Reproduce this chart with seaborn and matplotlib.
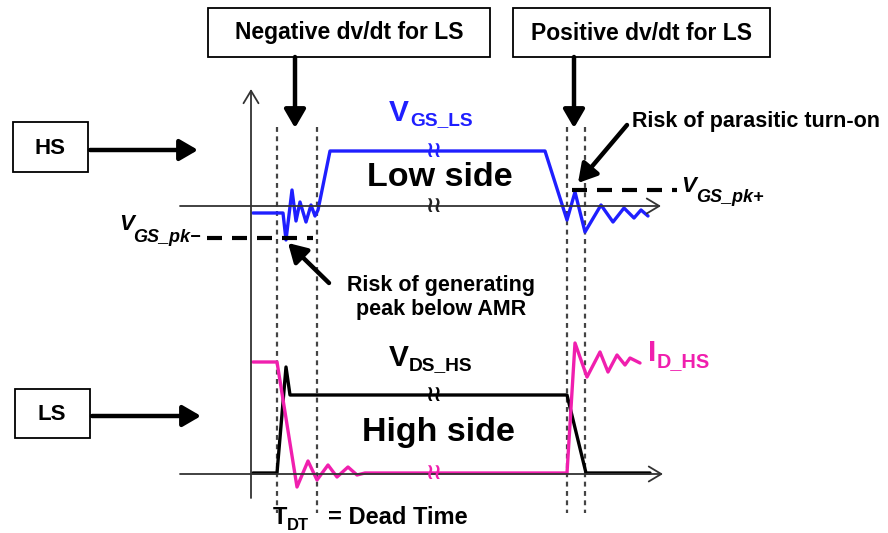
import matplotlib
matplotlib.use("Agg")
import matplotlib.pyplot as plt
import seaborn as sns
import numpy as np
import pandas as pd
from matplotlib.patches import Rectangle

sns.set_theme(style="white")
plt.rcParams['font.family'] = ['Liberation Sans', 'DejaVu Sans']
plt.rcParams['text.color'] = 'black'

# ---- data: waveform sketch points (pixel space of the original figure) ----
vgs_x = [253, 283, 286, 292, 296, 300, 306, 311, 315, 318, 330, 545,
         567, 575, 585, 601, 613, 624, 634, 641, 648]
vgs_y = [213, 213, 240, 190, 221, 202, 222, 205, 216, 210, 151, 151,
         220, 192, 232, 205, 222, 208, 218, 210, 216]

id_x = [253, 277, 297, 308, 317, 328, 337, 348, 357, 365, 567,
        575, 587, 600, 608, 617, 625, 630, 640]
id_y = [362, 362, 487, 461, 480, 465, 477, 467, 475, 473, 473,
        343, 377, 352, 372, 355, 365, 358, 363]

vds_x = [253, 277, 286, 290, 567, 586, 650]
vds_y = [473, 473, 367, 395, 395, 473, 473]

dead_time_x = [277, 317, 567, 585]
break_x = 433
break_y = [151, 206, 395, 473]
break_colors = ["#1f1fff", "#222222", "#000000", "#f01fae"]

BLUE = "#1f1fff"
MAG = "#f01fae"

fig = plt.figure(figsize=(8.88, 5.33), dpi=100)
ax = fig.add_axes([0, 0, 1, 1])

# axes of the sketch
axcol = "#333333"
for (xy, xyt) in [((251, 89), (251, 498)), ((661, 206), (180, 206)), ((663, 474), (180, 474))]:
    ax.annotate("", xy=xy, xytext=xyt,
                arrowprops=dict(arrowstyle="->,head_length=0.5,head_width=0.3", lw=1.3,
                                color=axcol, shrinkA=0, shrinkB=0, mutation_scale=18))

# dead time dotted lines
for x in dead_time_x:
    ax.plot([x, x], [127, 513], color="#444444", lw=1.6, ls=(0, (2.2, 2.0)))

# waveforms
df_vgs = pd.DataFrame({"x": vgs_x, "y": vgs_y})
df_id = pd.DataFrame({"x": id_x, "y": id_y})
df_vds = pd.DataFrame({"x": vds_x, "y": vds_y})
sns.lineplot(data=df_vds, x="x", y="y", sort=False, estimator=None, color="black",
             lw=2.4, ax=ax)
sns.lineplot(data=df_id, x="x", y="y", sort=False, estimator=None, color=MAG,
             lw=2.4, ax=ax)
sns.lineplot(data=df_vgs, x="x", y="y", sort=False, estimator=None, color=BLUE,
             lw=2.4, ax=ax)
ax.set_xlim(0, 888)
ax.set_ylim(533, 0)
ax.axis("off")

# break marks
for by, bc in zip(break_y, break_colors):
    ax.text(break_x, by, "≀≀", color=bc, fontsize=16, fontweight="bold",
            ha="center", va="center", family="DejaVu Sans")

# peak dashed lines
ax.plot([207, 313], [238, 238], color="black", lw=3, ls=(0, (3.6, 2.4)))
ax.plot([572, 677], [190, 190], color="black", lw=3, ls=(0, (3.6, 2.4)))

# boxes
for (x0, y0, x1, y1) in [(208, 8, 490, 57), (513, 8, 770, 57),
                         (13, 122, 88, 172), (15, 389, 90, 438)]:
    ax.add_patch(Rectangle((x0, y0), x1 - x0, y1 - y0, fill=False, ec="black", lw=1.3))

ax.text(349, 33, "Negative dv/dt for LS", fontsize=16.5, fontweight="bold",
        ha="center", va="center")
ax.text(641, 33, "Positive dv/dt for LS", fontsize=16.5, fontweight="bold",
        ha="center", va="center")
ax.text(50, 148, "HS", fontsize=16, fontweight="bold", ha="center", va="center")
ax.text(52, 414, "LS", fontsize=16, fontweight="bold", ha="center", va="center")

# filled arrows
def farrow(x0, y0, x1, y1):
    ax.annotate("", xy=(x1, y1), xytext=(x0, y0),
                arrowprops=dict(arrowstyle="-|>,head_length=0.55,head_width=0.32",
                                lw=3.2, color="black", shrinkA=0, shrinkB=0,
                                mutation_scale=20))

farrow(295, 57, 295, 128)
farrow(574, 57, 574, 128)
farrow(90, 150, 198, 150)
farrow(92, 416, 201, 416)
farrow(627, 125, 578, 183)
farrow(329, 283, 288, 243)

# annotations
ax.text(756, 122, "Risk of parasitic turn-on", fontsize=15.5, fontweight="bold",
        ha="center", va="center")
ax.text(441, 285, "Risk of generating", fontsize=15.5, fontweight="bold",
        ha="center", va="center")
ax.text(441, 310, "peak below AMR", fontsize=15.5, fontweight="bold",
        ha="center", va="center")

ax.text(440, 178, "Low side", fontsize=24.5, fontweight="bold", ha="center", va="center")
ax.text(438, 432, "High side", fontsize=24.5, fontweight="bold", ha="center", va="center")

# signal labels
ax.text(389, 113, "V", fontsize=21.5, fontweight="bold", color=BLUE, ha="left", va="center")
ax.text(410, 121, "GS_LS", fontsize=13.8, fontweight="bold", color=BLUE, ha="left", va="center")
ax.text(389, 358, "V", fontsize=21.5, fontweight="bold", color="black", ha="left", va="center")
ax.text(409, 366, "DS_HS", fontsize=13.8, fontweight="bold", color="black", ha="left", va="center")
ax.text(648, 353, "I", fontsize=21.5, fontweight="bold", color=MAG, ha="left", va="center")
ax.text(657, 362, "D_HS", fontsize=14.3, fontweight="bold", color=MAG, ha="left", va="center")

ax.text(119, 224, "V", fontsize=16, fontweight="bold", style="italic", ha="left", va="center")
ax.text(133, 238, "GS_pk\u2212", fontsize=13, fontweight="bold", style="italic",
        ha="left", va="center")
ax.text(681, 186, "V", fontsize=16, fontweight="bold", style="italic", ha="left", va="center")
ax.text(696, 198, "GS_pk+", fontsize=13, fontweight="bold", style="italic",
        ha="left", va="center")

ax.text(273, 518, "T", fontsize=17, fontweight="bold", ha="left", va="center")
ax.text(287, 526, "DT", fontsize=12, fontweight="bold", ha="left", va="center")
ax.text(328, 518, "= Dead Time", fontsize=17, fontweight="bold", ha="left", va="center")

fig.savefig("out.png", dpi=100)
